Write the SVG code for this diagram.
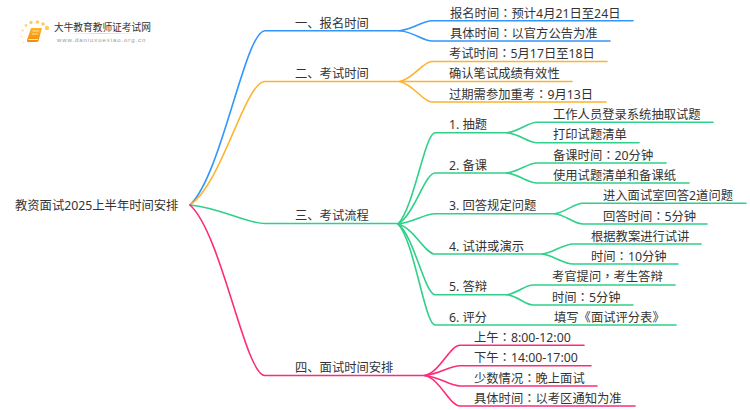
<svg xmlns="http://www.w3.org/2000/svg" width="750" height="410" viewBox="0 0 750 410">
<defs>
<linearGradient id="bk" x1="0" y1="0" x2="0" y2="1"><stop offset="0" stop-color="#fdb52a"/><stop offset="1" stop-color="#f08a0c"/></linearGradient>
<linearGradient id="ul" x1="0" y1="0" x2="1" y2="0"><stop offset="0" stop-color="#ddd" stop-opacity="0"/><stop offset=".5" stop-color="#ccc"/><stop offset="1" stop-color="#ddd" stop-opacity="0"/></linearGradient>
</defs>
<style>
text{font-family:"Noto Sans","Noto Sans CJK SC",sans-serif;font-size:12.3px;fill:#333}
.k{font-family:"Noto Sans CJK TC",sans-serif}
.c{fill:none;stroke-width:1.6;stroke-linecap:round}
.b{stroke:#3296fa}.o{stroke:#fdb32c}.g{stroke:#2fd18a}.p{stroke:#fc2c7a}
.d{fill:#fdcb62}
</style>
<g id="logo">
<circle class="d" cx="47" cy="28" r="2.2"/><circle class="d" cx="43" cy="24" r="1.8"/><circle class="d" cx="37.500" cy="22" r="1.8"/><circle class="d" cx="31" cy="22.500" r="1.7"/><circle class="d" cx="26" cy="25.500" r="1.4" opacity=".8"/><circle class="d" cx="22.500" cy="30.500" r="1.2" opacity=".6"/><circle class="d" cx="21.500" cy="36.500" r="1" opacity=".5"/><circle class="d" cx="23.500" cy="42.500" r="1" opacity=".4"/>
<path d="M31,28 H42 L38.500,41 Q38,42 36,42 H28 Q26.500,42 27,40 Z" fill="url(#bk)"/>
<path d="M28.500,39.500 H38" stroke="#fff" stroke-width=".8" fill="none"/>
<path d="M32.500,31 H39 M32,34 H38" stroke="#ffe3a8" stroke-width=".9" fill="none"/>
<text x="54" y="31" style="font-size:9.7px">大牛教育教师证考试网</text>
<rect x="62" y="33" width="80" height=".8" fill="url(#ul)"/>
<text x="57" y="41.500" style="font-size:6px;letter-spacing:.92px;fill:#999;font-family:'Liberation Sans',sans-serif">www.daniuxuexiao.org.cn</text>
</g>
<g id="connectors">
<path class="c b" d="M190,205 C222,175 245,30.700 265,30.700 H400"/>
<path class="c o" d="M190,205 C222,184 245,81.500 265,81.500 H400"/>
<path class="c g" d="M190,205 C222,208 245,223.500 265,223.500 H398"/>
<path class="c p" d="M190,205 C222,234 245,375.500 265,375.500 H425"/>
<path class="c b" d="M400,30.700 C414,29 423,20.700 432,20.700 H633"/>
<path class="c b" d="M400,30.700 C414,32 423,41 432,41 H610"/>
<path class="c o" d="M400,81.500 C414,78 423,61.500 432,61.500 H607"/>
<path class="c o" d="M400,81.500 H572"/>
<path class="c o" d="M400,81.500 C414,85 423,102 432,102 H606"/>
<path class="c g" d="M398,224 C414,208 425,132.700 435,132.700 H507"/>
<path class="c g" d="M398,224 C414,215 425,173 435,173 H507"/>
<path class="c g" d="M398,224 C414,222 425,213.700 435,213.700 H555"/>
<path class="c g" d="M398,224 C414,228 425,254 435,254 H543"/>
<path class="c g" d="M398,224 C414,236 425,294.700 435,294.700 H507"/>
<path class="c g" d="M398,224 C414,240 425,325 435,325 H676"/>
<path class="c g" d="M507,132.700 C520,131 528,122.300 537,122.300 H713"/>
<path class="c g" d="M507,132.700 C520,134 528,142.700 537,142.700 H639"/>
<path class="c g" d="M507,173 C520,171 528,163 537,163 H666"/>
<path class="c g" d="M507,173 C520,175 528,183 537,183 H689"/>
<path class="c g" d="M555,213.700 C566,212 574,203.300 583,203.300 H746"/>
<path class="c g" d="M555,213.700 C566,215 574,224 583,224 H707"/>
<path class="c g" d="M543,254 C554,252 564,244 573,244 H701"/>
<path class="c g" d="M543,254 C554,256 564,264 573,264 H678"/>
<path class="c g" d="M507,294.700 C518,293 525,285 533,285 H675"/>
<path class="c g" d="M507,294.700 C518,296 525,305 533,305 H633"/>
<path class="c p" d="M425,375.500 C440,372 450,345.300 460,345.300 H584"/>
<path class="c p" d="M425,375.500 C440,374 450,365.700 460,365.700 H591"/>
<path class="c p" d="M425,375.500 C440,377 450,386 460,386 H597"/>
<path class="c p" d="M425,375.500 C440,379 450,406 460,406 H635"/>
</g>
<g id="root"><text x="15" y="210">教资面试2025上半年时间安排</text></g>
<g id="n1"><text x="295" y="27.500">一、报名时间</text></g>
<g id="n2"><text x="295" y="78">二、考试时间</text></g>
<g id="n3"><text x="295" y="220">三、考试流程</text></g>
<g id="n4"><text x="295" y="372">四、面试时间安排</text></g>
<g id="n1-1"><text x="450" y="17.500">报名时间<tspan class="k">：</tspan>预计4月21日至24日</text></g>
<g id="n1-2"><text x="450" y="38">具体时间<tspan class="k">：</tspan>以官方公告为准</text></g>
<g id="n2-1"><text x="449" y="58">考试时间<tspan class="k">：</tspan>5月17日至18日</text></g>
<g id="n2-2"><text x="449" y="78">确认笔试成绩有效性</text></g>
<g id="n2-3"><text x="449" y="98.500">过期需参加重考<tspan class="k">：</tspan>9月13日</text></g>
<g id="n3-1"><text x="449" y="129">1. 抽题</text></g>
<g id="n3-2"><text x="449" y="169.500">2. 备课</text></g>
<g id="n3-3"><text x="449" y="210">3. 回答规定问题</text></g>
<g id="n3-4"><text x="449" y="250.500">4. 试讲或演示</text></g>
<g id="n3-5"><text x="449" y="291">5. 答辩</text></g>
<g id="n3-6"><text x="449" y="321.500">6. 评分</text></g>
<g id="n3-1-1"><text x="553" y="119">工作人员登录系统抽取试题</text></g>
<g id="n3-1-2"><text x="553" y="139">打印试题清单</text></g>
<g id="n3-2-1"><text x="553" y="159.500">备课时间<tspan class="k">：</tspan>20分钟</text></g>
<g id="n3-2-2"><text x="553" y="179.500">使用试题清单和备课纸</text></g>
<g id="n3-3-1"><text x="603" y="200">进入面试室回答2道问题</text></g>
<g id="n3-3-2"><text x="603" y="220.500">回答时间<tspan class="k">：</tspan>5分钟</text></g>
<g id="n3-4-1"><text x="591" y="240.500">根据教案进行试讲</text></g>
<g id="n3-4-2"><text x="591" y="260.500">时间<tspan class="k">：</tspan>10分钟</text></g>
<g id="n3-5-1"><text x="552" y="281">考官提问<tspan class="k">，</tspan>考生答辩</text></g>
<g id="n3-5-2"><text x="552" y="301.500">时间<tspan class="k">：</tspan>5分钟</text></g>
<g id="n3-6-1"><text x="554" y="321.500">填写《面试评分表》</text></g>
<g id="n4-1"><text x="474" y="342">上午<tspan class="k">：</tspan>8:00-12:00</text></g>
<g id="n4-2"><text x="474" y="362">下午<tspan class="k">：</tspan>14:00-17:00</text></g>
<g id="n4-3"><text x="474" y="382.500">少数情况<tspan class="k">：</tspan>晚上面试</text></g>
<g id="n4-4"><text x="474" y="402.500">具体时间<tspan class="k">：</tspan>以考区通知为准</text></g>
</svg>
